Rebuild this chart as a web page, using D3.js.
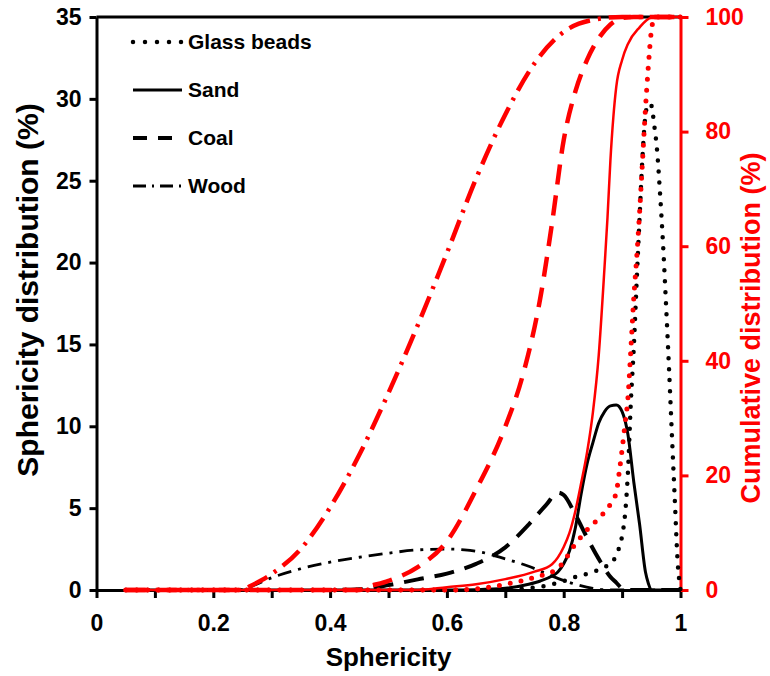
<!DOCTYPE html>
<html><head><meta charset="utf-8">
<script src="https://cdn.jsdelivr.net/npm/d3@7/dist/d3.min.js"></script>
<style>
body{margin:0;background:#fff}
text{font-family:Arial,"Liberation Sans",sans-serif;font-weight:bold}
</style>
</head><body>
<svg id="chart" width="770" height="676"></svg>
<script>
// ---------- data ----------
const xTickValues = [0,0.1,0.2,0.3,0.4,0.5,0.6,0.7,0.8,0.9,1];
const xTickLabels = ["0","","0.2","","0.4","","0.6","","0.8","","1"];
const leftTickValues = [0,5,10,15,20,25,30,35];
const rightTickValues = [0,20,40,60,80,100];
const seriesNames = ["Glass beads","Sand","Coal","Wood"];

// sphericity distribution (%)
const glassDX = [0.05,0.60,0.70,0.72,0.76,0.80,0.82,0.85,0.87,0.885,0.895,0.90,0.905,0.91,0.915,0.92,0.925,0.93,0.935,0.94,0.945,0.95,0.955,0.96,0.965,0.97,0.975,0.98,0.985,0.99,0.995,1.0];
const glassDY = [0,0,0.02,0.05,0.2,0.55,0.8,1.1,1.4,1.8,2.6,3.3,4.6,7.2,11.5,14.8,18.9,22.8,26.5,29.0,29.7,29.6,28.4,26.8,24.2,21.2,17.6,13.8,9.7,5.7,1.8,0];
const sandDX = [0.05,0.60,0.65,0.70,0.74,0.76,0.78,0.79,0.80,0.81,0.82,0.83,0.84,0.85,0.86,0.87,0.88,0.89,0.90,0.91,0.92,0.93,0.94,0.945,0.95,1.0];
const sandDY = [0,0,0.02,0.1,0.35,0.55,0.85,1.1,1.6,2.4,3.8,5.9,7.7,9.0,10.2,10.9,11.25,11.3,10.9,9.5,6.6,4.0,1.1,0.4,0,0];
const coalDX = [0.05,0.40,0.45,0.50,0.55,0.60,0.65,0.70,0.74,0.77,0.79,0.80,0.82,0.84,0.86,0.88,0.89,0.90,0.91,1.0];
const coalDY = [0,0,0.05,0.3,0.65,1.0,1.6,2.6,4.0,5.2,5.95,5.8,4.6,3.2,1.9,0.8,0.45,0.1,0,0];
const woodDX = [0.05,0.20,0.25,0.27,0.30,0.35,0.40,0.45,0.50,0.55,0.60,0.63,0.66,0.70,0.74,0.78,0.82,0.85,0.88,1.0];
const woodDY = [0,0,0.02,0.3,0.75,1.3,1.7,2.0,2.25,2.45,2.5,2.45,2.3,1.9,1.45,0.85,0.35,0.1,0,0];

// cumulative distribution (%)
const glassCX = [0.05,0.60,0.65,0.70,0.75,0.79,0.82,0.84,0.86,0.88,0.89,0.895,0.90,0.905,0.91,0.915,0.92,0.925,0.93,0.935,0.94,0.945,0.95,0.955,0.96,1.0];
const glassCY = [0,0,0.2,1.0,2.2,3.8,8,10.5,12.5,15,17,20.5,24.5,29,33.5,42,51,58,66,75,84,91.5,97.5,99.8,100,100];
const sandCX = [0.05,0.55,0.60,0.65,0.70,0.75,0.78,0.80,0.81,0.82,0.83,0.84,0.85,0.86,0.87,0.875,0.88,0.885,0.89,0.90,0.91,0.93,0.95,0.96,1.0];
const sandCY = [0,0,0.5,1.0,1.9,3.2,4.5,7.5,10,13.8,18.7,24,31,41,56.5,65,75,82.5,87.8,92.5,95.3,98.2,99.9,100,100];
const coalCX = [0.05,0.45,0.46,0.50,0.55,0.60,0.65,0.70,0.73,0.76,0.78,0.80,0.82,0.84,0.86,0.88,0.90,0.92,1.0];
const coalCY = [0,0,0.4,1.6,4,8.5,17.5,28.5,37.5,51,64,78.5,87,92.5,96.3,98.7,99.8,100,100];
const woodCX = [0.05,0.25,0.26,0.30,0.35,0.40,0.45,0.50,0.55,0.60,0.65,0.70,0.75,0.80,0.85,0.90,1.0];
const woodCY = [0,0,0.5,2.8,7.2,14.4,23.6,34.4,46.2,58.8,71.8,83.0,91.9,97.4,99.5,100,100];

// ---------- layout ----------
const svg = d3.select("#chart");
const M = {left:96.5, right:680.5, top:17, bottom:590};
const x = d3.scaleLinear().domain([0,1]).range([M.left, M.right]);
const yL = d3.scaleLinear().domain([0,35]).range([M.bottom, M.top]);
const yR = d3.scaleLinear().domain([0,100]).range([M.bottom, M.top]);
const RED = "#ff0000";

const styles = {
  dot:     {w:4.5, dash:"0 11", cap:"round"},
  solid:   {w:3, dash:null, cap:"butt"},
  dashed:  {w:4, dash:"20 11", cap:"butt"},
  dashdot: {w:2.8, dash:"14 7 3 7", cap:"butt"}
};
const redStyles = {
  dot:     {w:5, dash:"0 11", cap:"round"},
  solid:   {w:2.5, dash:null, cap:"butt"},
  dashed:  {w:4.5, dash:"20 11", cap:"butt"},
  dashdot: {w:4.5, dash:"22 8 3 8", cap:"butt"}
};
const styleKeys = ["dot","solid","dashed","dashdot"];

// top frame line
svg.append("line").attr("x1",M.left).attr("x2",M.right).attr("y1",M.top).attr("y2",M.top)
  .attr("stroke","#000").attr("stroke-width",3);

// axes
const gx = svg.append("g").attr("transform",`translate(0,${M.bottom})`)
  .call(d3.axisBottom(x).tickValues(xTickValues).tickFormat((d,i)=>xTickLabels[i]).tickSize(8).tickSizeOuter(0).tickPadding(17));
const gl = svg.append("g").attr("transform",`translate(${M.left},0)`)
  .call(d3.axisLeft(yL).tickValues(leftTickValues).tickSize(7).tickSizeOuter(0).tickPadding(8));
const gr = svg.append("g").attr("transform",`translate(${M.right},0)`)
  .call(d3.axisRight(yR).tickValues(rightTickValues).tickSize(8).tickSizeOuter(0).tickPadding(17));
[gx,gl].forEach(g=>{
  g.selectAll("path,line").attr("stroke","#000").attr("stroke-width",3);
  g.selectAll("text").attr("fill","#000").style("font-size","23px");
});
gr.selectAll("path,line").attr("stroke",RED).attr("stroke-width",3);
gr.selectAll("text").attr("fill",RED).style("font-size","23px");

// axis titles
svg.append("text").attr("x",(M.left+M.right)/2).attr("y",666).attr("text-anchor","middle")
  .style("font-size","26px").attr("fill","#000").text("Sphericity");
svg.append("text").attr("transform","translate(27,290) rotate(-90)").attr("text-anchor","middle")
  .attr("dy","0.35em").style("font-size","30px").attr("fill","#000").text("Sphericity distribution (%)");
svg.append("text").attr("transform","translate(751,328) rotate(-90)").attr("text-anchor","middle")
  .attr("dy","0.35em").style("font-size","27px").attr("fill",RED).text("Cumulative distribution (%)");

// lines
const distSeries = [[glassDX,glassDY],[sandDX,sandDY],[coalDX,coalDY],[woodDX,woodDY]];
const cumSeries = [[glassCX,glassCY],[sandCX,sandCY],[coalCX,coalCY],[woodCX,woodCY]];
const lineL = d3.line().x(d=>x(d[0])).y(d=>yL(d[1])).curve(d3.curveMonotoneX);
const lineR = d3.line().x(d=>x(d[0])).y(d=>yR(d[1])).curve(d3.curveMonotoneX);

function drawLine(path, st, color){
  path.attr("fill","none").attr("stroke",color).attr("stroke-width",st.w)
    .attr("stroke-linecap",st.cap).attr("stroke-linejoin","round");
  if(st.dash) path.attr("stroke-dasharray",st.dash);
}
distSeries.forEach((s,i)=>{
  const pts = s[0].map((v,j)=>[v,s[1][j]]);
  drawLine(svg.append("path").attr("d",lineL(pts)), styles[styleKeys[i]], "#000");
});
cumSeries.forEach((s,i)=>{
  const pts = s[0].map((v,j)=>[v,s[1][j]]);
  drawLine(svg.append("path").attr("d",lineR(pts)), redStyles[styleKeys[i]], RED);
});

// legend
const legendStyles = [
  {w:4.5, dash:"0 12", cap:"round"},
  {w:3, dash:null, cap:"butt"},
  {w:4, dash:"14 11", cap:"butt"},
  {w:2.8, dash:"13 6 2 6", cap:"butt"}
];
seriesNames.forEach((name,i)=>{
  const cy = 42 + i*48;
  drawLine(svg.append("path").attr("d",`M133,${cy}H182`), legendStyles[i], "#000");
  svg.append("text").attr("x",188).attr("y",cy).attr("dy","0.35em")
    .style("font-size","21px").attr("fill","#000").text(name);
});
</script>
</body></html>
